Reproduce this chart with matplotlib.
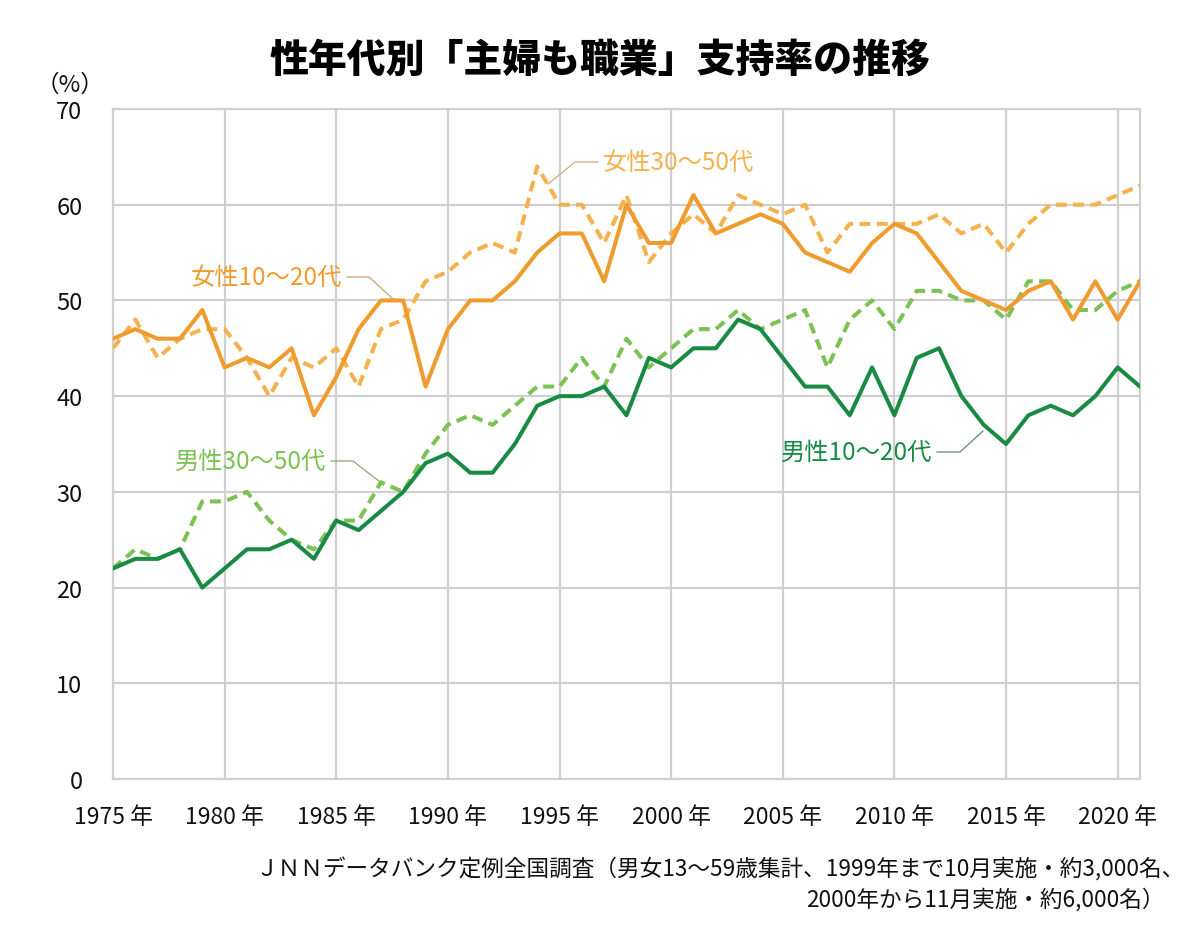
import matplotlib
matplotlib.use("Agg")
import matplotlib.pyplot as plt

plt.rcParams['font.family'] = ['Noto Sans CJK JP', 'DejaVu Sans']

years = list(range(1975, 2022))

female_10_20 = [46, 47, 46, 46, 49, 43, 44, 43, 45, 38,
                42, 47, 50, 50, 41, 47, 50, 50, 52, 55,
                57, 57, 52, 60, 56, 56, 61, 57, 58, 59,
                58, 55, 54, 53, 56, 58, 57, 54, 51, 50,
                49, 51, 52, 48, 52, 48, 52]
female_30_50 = [45, 48, 44, 46, 47, 47, 44, 40, 44, 43,
                45, 41, 47, 48, 52, 53, 55, 56, 55, 64,
                60, 60, 56, 61, 54, 57, 59, 57, 61, 60,
                59, 60, 55, 58, 58, 58, 58, 59, 57, 58,
                55, 58, 60, 60, 60, 61, 62]
male_10_20 = [22, 23, 23, 24, 20, 22, 24, 24, 25, 23,
              27, 26, 28, 30, 33, 34, 32, 32, 35, 39,
              40, 40, 41, 38, 44, 43, 45, 45, 48, 47,
              44, 41, 41, 38, 43, 38, 44, 45, 40, 37,
              35, 38, 39, 38, 40, 43, 41]
male_30_50 = [22, 24, 23, 24, 29, 29, 30, 27, 25, 24,
              27, 27, 31, 30, 34, 37, 38, 37, 39, 41,
              41, 44, 41, 46, 43, 45, 47, 47, 49, 47,
              48, 49, 43, 48, 50, 47, 51, 51, 50, 50,
              48, 52, 52, 49, 49, 51, 52]

xticks = [1975, 1980, 1985, 1990, 1995, 2000, 2005, 2010, 2015, 2020]
xticklabels = [f"{y} 年" for y in xticks]
yticks = [0, 10, 20, 30, 40, 50, 60, 70]

title = "性年代別「主婦も職業」支持率の推移"
source1 = "ＪＮＮデータバンク定例全国調査（男女13〜59歳集計、1999年まで10月実施・約3,000名、"
source2 = "2000年から11月実施・約6,000名）"

C_F_SOLID = "#EF9B2D"
C_F_DASH = "#F4B14E"
C_M_SOLID = "#198A44"
C_M_DASH = "#7CC153"
GRID = "#cfcfcf"

W, H = 1200, 929
fig = plt.figure(figsize=(W / 100, H / 100), dpi=100)
ax = fig.add_axes([113 / W, 1 - 780 / H, (1140 - 113) / W, (780 - 110) / H])

lw = 2.9
ax.plot(years, male_30_50, color=C_M_DASH, lw=lw, linestyle=(0, (2.7, 1.6)), zorder=3)
ax.plot(years, female_30_50, color=C_F_DASH, lw=lw, linestyle=(0, (2.7, 1.6)), zorder=3)
ax.plot(years, male_10_20, color=C_M_SOLID, lw=lw, zorder=4)
ax.plot(years, female_10_20, color=C_F_SOLID, lw=lw, zorder=4)

ax.set_xlim(1975, 2021)
ax.set_ylim(0, 70)
ax.set_xticks(xticks)
ax.set_xticklabels(xticklabels)
ax.set_yticks(yticks)
ax.grid(True, color=GRID, lw=1.6, zorder=0)
for s in ax.spines.values():
    s.set_color(GRID)
    s.set_linewidth(1.6)
ax.tick_params(length=0, colors="#111111")
ax.tick_params(axis='x', pad=19, labelsize=16.5)
ax.tick_params(axis='y', pad=22, labelsize=17)

# labels with leader lines
def label(text, color, tx, ty, pts, ha, lcolor):
    ax.text(tx, ty, text, color=color, fontsize=17.5, ha=ha, va='center', zorder=5)
    xs = [p[0] for p in pts]
    ys = [p[1] for p in pts]
    ax.plot(xs, ys, color=lcolor, lw=0.9, zorder=5)

def px(x, y):
    return (1975 + (x - 113) / ((1140 - 113) / 46), (780 - y) / ((780 - 110) / 70))

tx, ty = px(603, 163)
label("女性30〜50代", C_F_DASH, tx, ty, [px(598, 163), px(575, 163), px(548, 185)], 'left', "#d0ad78")
tx, ty = px(342, 278)
label("女性10〜20代", C_F_SOLID, tx, ty, [px(347, 278), px(369, 278), px(393, 300)], 'right', "#c9a374")
tx, ty = px(326, 462)
label("男性30〜50代", C_M_DASH, tx, ty, [px(331, 462), px(353, 462), px(380, 483)], 'right', "#8aa878")
tx, ty = px(781, 453)
label("男性10〜20代", C_M_SOLID, tx, ty, [px(937, 453), px(960, 453), px(983, 432)], 'left', "#5f8a6a")

fig.text(600 / W, 1 - 60 / H, title, fontsize=28, fontweight='heavy', ha='center', va='center', color='#000000')
fig.text(70 / W, 1 - 85 / H, "（%）", fontsize=17, ha='center', va='center', color='#111111')
fig.text(1185 / W, 1 - 870 / H, source1, fontsize=16.3, ha='right', va='center', color='#111111')
fig.text(1165 / W, 1 - 900 / H, source2, fontsize=16.3, ha='right', va='center', color='#111111')

fig.savefig("out.png", dpi=100, facecolor='white')
